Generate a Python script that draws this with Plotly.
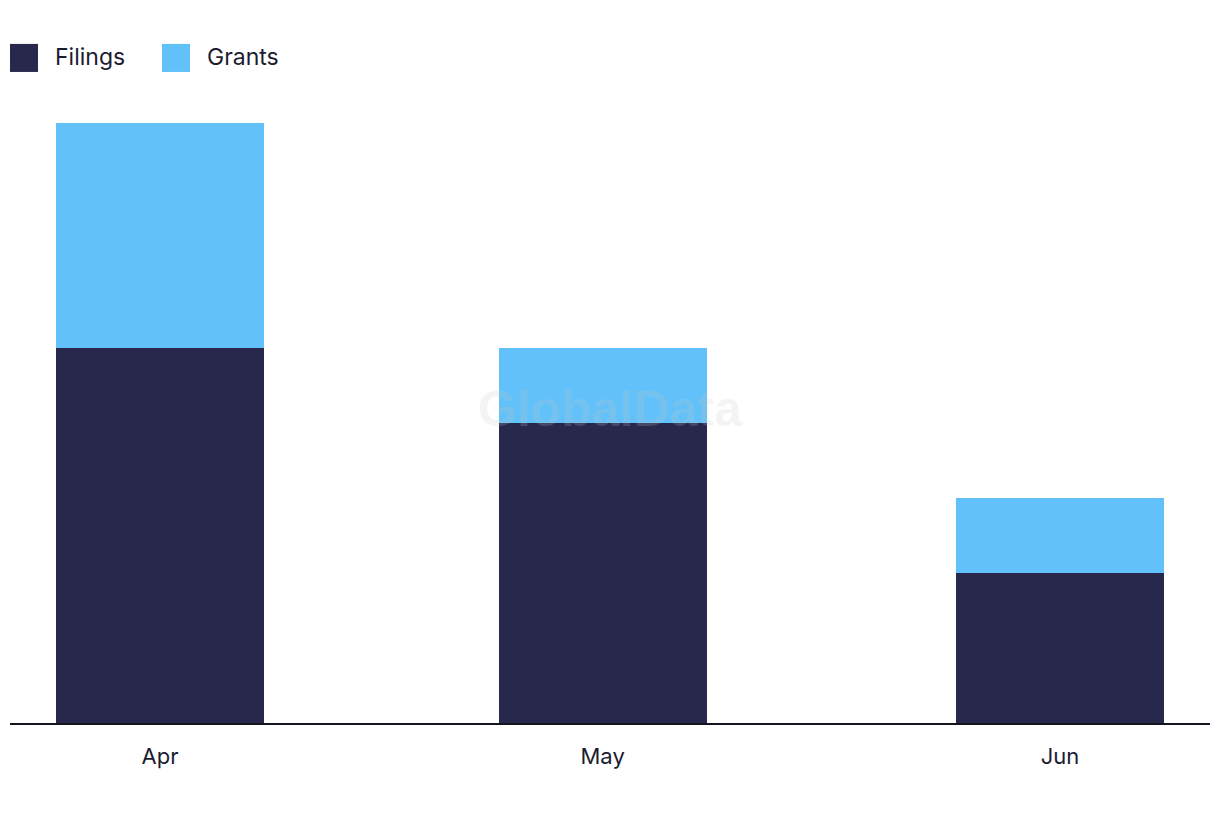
import pandas as pd
import plotly.graph_objects as go

months = ["2024-04-01", "2024-05-01", "2024-06-01"]
month_labels = ["Apr", "May", "Jun"]
filings = [5, 4, 2]
grants = [3, 1, 1]

NAVY = "#27284b"
BLUE = "#62c1f9"
TEXT = "#1c1c30"
FONT = "Inter"

x = pd.to_datetime(months)
day_ms = 86400000
bar_w = 14.1 * day_ms

fig = go.Figure()
fig.add_trace(go.Bar(x=x, y=filings, name="Filings", marker=dict(color=NAVY, line=dict(width=0)),
                     width=bar_w, showlegend=False))
fig.add_trace(go.Bar(x=x, y=grants, name="Grants", marker=dict(color=BLUE, line=dict(width=0)),
                     width=bar_w, showlegend=False))

pad = pd.Timedelta(days=10.17)
fig.update_layout(
    barmode="stack",
    width=1220, height=822,
    margin=dict(l=10, r=10, t=100, b=99),
    paper_bgcolor="white", plot_bgcolor="white",
    font=dict(family=FONT, color=TEXT, size=22),
    xaxis=dict(type="date", range=[x[0] - pad, x[-1] + pad],
               tickvals=x, ticktext=month_labels, showgrid=False, zeroline=False,
               showline=True, linecolor="#15151f", linewidth=2, ticks="",
               ticklabelstandoff=13, tickfont=dict(size=22, color=TEXT, family=FONT)),
    yaxis=dict(range=[0, 8.31], visible=False, showgrid=False, zeroline=False),
    showlegend=False,
)

# legend drawn manually (paper coordinates)
legend_items = [("Filings", NAVY, 10, 53), ("Grants", BLUE, 162, 205)]
for name, col, sx, tx in legend_items:
    fig.add_shape(type="rect", xref="paper", yref="paper",
                  x0=(sx - 10) / 1200, x1=(sx + 28 - 10) / 1200,
                  y0=(723 - 73) / 622, y1=(723 - 45) / 622,
                  fillcolor=col, line=dict(width=0))
    fig.add_annotation(text=name, xref="paper", yref="paper",
                       x=(tx - 10) / 1200, y=(723 - 58) / 622,
                       xanchor="left", yanchor="middle", showarrow=False,
                       font=dict(size=23, color=TEXT, family=FONT))

# watermark
fig.add_annotation(text="<b>GlobalData</b>", xref="paper", yref="paper",
                   x=0.5, y=(723 - 410) / 622, xanchor="center", yanchor="middle",
                   showarrow=False,
                   font=dict(size=50, color="rgba(200,200,200,0.2)", family="Liberation Sans"))

fig.write_html("out.html")
